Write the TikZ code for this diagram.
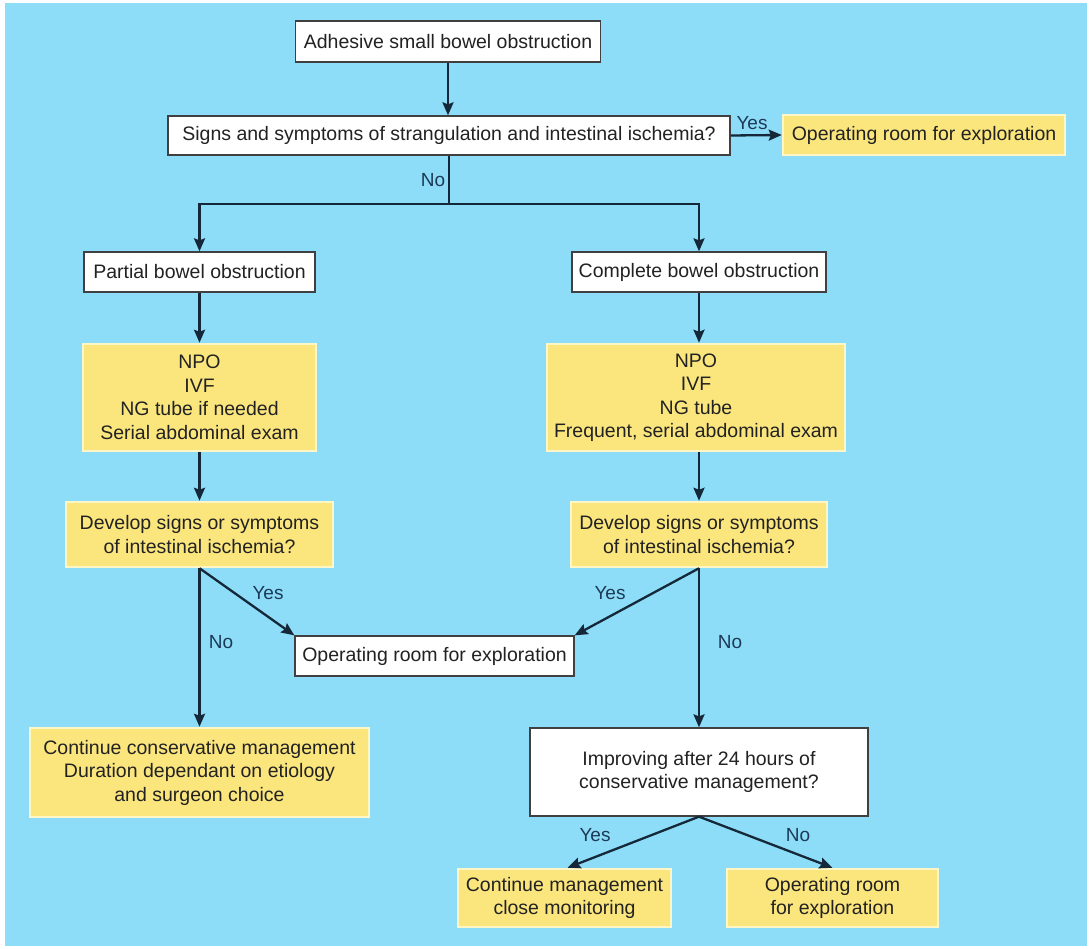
\documentclass[tikz,border=0pt]{standalone}
\usepackage{fontspec}
\setmainfont{Liberation Sans}
\usetikzlibrary{arrows.meta,calc}
\definecolor{skyback}{HTML}{8EDDF8}
\definecolor{padyellow}{HTML}{FBE67E}
\definecolor{padedge}{HTML}{FFF6C8}
\definecolor{linkline}{HTML}{15283A}
\definecolor{labelink}{HTML}{1C3A56}
\definecolor{boxink}{HTML}{222222}
\begin{document}
\begin{tikzpicture}[x=1pt,y=-1pt,
  every node/.style={font=\fontsize{19.5}{23.5}\selectfont, text=boxink, align=center, inner sep=0pt},
  whitebox/.style={draw=black!75, line width=1.3pt, fill=white},
  yellowbox/.style={draw=padedge, line width=2.5pt, fill=padyellow},
  link/.style={draw=linkline, line width=2.3pt, -{Stealth[length=13pt,width=11pt,inset=2pt]}},
  plain/.style={draw=linkline, line width=2.3pt},
  answer/.style={text=labelink, font=\fontsize{19}{23}\selectfont}]
% page and panel
\fill[white] (0,0) rectangle (1092,949);
\fill[skyback] (5,3) rectangle (1087,946);
\useasboundingbox (0,0) rectangle (1092,949);

% boxes
\node[whitebox, minimum width=305pt, minimum height=41pt] (adh) at (448,41.5) {Adhesive small bowel obstruction};
\node[whitebox, minimum width=562pt, minimum height=39pt] (sign) at (449,135.5) {Signs and symptoms of strangulation and intestinal ischemia?};
\node[yellowbox, minimum width=282pt, minimum height=40pt] (orTop) at (924,135) {Operating room for exploration};

\node[whitebox, minimum width=231pt, minimum height=40pt] (partial) at (199.5,272) {Partial bowel obstruction};
\node[whitebox, minimum width=254pt, minimum height=40pt] (complete) at (699,272) {Complete bowel obstruction};

\node[yellowbox, minimum width=233pt, minimum height=107pt] (npoL) at (199.5,397.5) {NPO\\IVF\\NG tube if needed\\Serial abdominal exam};
\node[yellowbox, minimum width=298pt, minimum height=107pt] (npoR) at (696,397.5) {NPO\\IVF\\NG tube\\Frequent, serial abdominal exam};

\node[yellowbox, minimum width=267pt, minimum height=65pt] (devL) at (199.5,534.5) {Develop signs or symptoms\\of intestinal ischemia?};
\node[yellowbox, minimum width=256pt, minimum height=65pt] (devR) at (699,534.5) {Develop signs or symptoms\\of intestinal ischemia?};

\node[whitebox, minimum width=279pt, minimum height=40pt] (orMid) at (434.5,656) {Operating room for exploration};

\node[yellowbox, minimum width=339pt, minimum height=89pt] (contL) at (199.5,772.5) {Continue conservative management\\Duration dependant on etiology\\and surgeon choice};
\node[whitebox, minimum width=338pt, minimum height=88pt] (impr) at (699,772) {Improving after 24 hours of\\conservative management?};

\node[yellowbox, minimum width=213pt, minimum height=58pt] (contM) at (564.5,898) {Continue management\\close monitoring};
\node[yellowbox, minimum width=211pt, minimum height=58pt] (orBot) at (832.5,898) {Operating room\\for exploration};

% connectors
\draw[link] (adh.south) -- (sign.north -| adh.south);
\draw[link] (sign.east) -- (orTop.west);
\coordinate (split) at (449,204);
\draw[plain] (sign.south) -- (split);
\draw[link] (split) -| (partial.north);
\draw[link] (split) -| (complete.north);

\draw[link] (partial.south) -- (npoL.north);
\draw[link] (complete.south) -- (complete.south |- npoR.north);
\draw[link] (npoL.south) -- (devL.north);
\draw[link] (npoR.south -| devR.north) -- (devR.north);

\draw[link] (devL.south) -- (orMid.north west);
\draw[link] (devL.south) -- (contL.north);
\draw[link] (devR.south) -- (orMid.north east);
\draw[link] (devR.south) -- (impr.north);

\draw[link] (impr.south) -- ($(contM.north)+(3,0)$);
\draw[link] (impr.south) -- (orBot.north);

% branch answers
\node[answer] (yesTop) at (752,123) {Yes};
\node[answer] (noTop) at (433,180) {No};
\node[answer] (yesL) at (268,593) {Yes};
\node[answer] (noL) at (221,642) {No};
\node[answer] (yesR) at (610,593) {Yes};
\node[answer] (noR) at (730,642) {No};
\node[answer] (yesB) at (595,835) {Yes};
\node[answer] (noB) at (798,835) {No};
\end{tikzpicture}
\end{document}
